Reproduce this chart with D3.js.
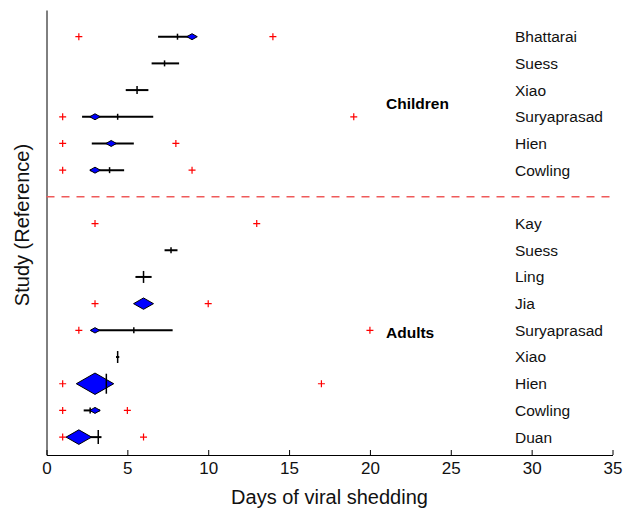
<!DOCTYPE html>
<html>
<head>
<meta charset="utf-8">
<script src="https://cdn.jsdelivr.net/npm/d3@7"></script>
<style>
  body { margin: 0; background: #fff; }
  svg { font-family: "Liberation Sans", Arial, Helvetica, sans-serif; }
</style>
</head>
<body>
<div id="chart"></div>
<script>
// Data
var studies = ["Bhattarai", "Suess", "Xiao", "Suryaprasad", "Hien", "Cowling",
  "Kay", "Suess", "Ling", "Jia", "Suryaprasad", "Xiao", "Hien", "Cowling", "Duan"];
var groups = ["Children", "Children", "Children", "Children", "Children", "Children",
  "Adults", "Adults", "Adults", "Adults", "Adults", "Adults", "Adults", "Adults", "Adults"];
var ciLow = [6.9, 6.5, 4.9, 2.2, 2.8, 2.7, null, 7.3, 5.5, 5.6, 2.75, 4.3, 2.6, 2.3, 1.5];
var ciHigh = [9.2, 8.2, 6.3, 6.6, 5.4, 4.8, null, 8.1, 6.5, 6.4, 7.8, 4.5, 3.7, 3.3, 3.4];
var means = [8.1, 7.3, 5.6, 4.4, null, 3.9, null, 7.7, 6.0, null, 5.4, 4.4, 3.7, 2.7, 3.2];
var meanWeight = [3, 3, 4, 3, 0, 3, 0, 3, 6, 0, 3, 6, 10, 3, 7];
var medians = [9.0, null, null, 3.0, 4.0, 3.0, null, null, null, 6.0, 3.0, null, 3.0, 3.0, 2.0];
var medianWeight = [3, 0, 0, 3, 3, 3, 0, 0, 0, 5.7, 2.7, 0, 10.7, 3, 7.3];
var rangeMin = [2, null, null, 1, 1, 1, 3, null, null, 3, 2, null, 1, 1, 1];
var rangeMax = [14, null, null, 19, 8, 9, 13, null, null, 10, 20, null, 17, 5, 6];
var xTicks = [0, 5, 10, 15, 20, 25, 30, 35];

// slot of each row (one empty slot between the groups)
var rows = studies.map(function(s, i) {
  return {
    study: s,
    group: groups[i],
    slot: groups[i] === "Children" ? i : i + 1,
    lo: ciLow[i], hi: ciHigh[i],
    mean: means[i], mw: meanWeight[i],
    median: medians[i], dw: medianWeight[i],
    min: rangeMin[i], max: rangeMax[i]
  };
});

// Chart set up
var svgWidth = 623;
var svgHeight = 512;

var svg = d3.select("#chart")
  .append("svg")
  .attr("width", svgWidth)
  .attr("height", svgHeight);

var x = d3.scaleLinear()
  .domain([0, 35])
  .range([46.5, 612.5]);

var y = d3.scaleLinear()
  .domain([-1, 15.67])
  .range([10, 455]);

var w = d3.scaleLinear().domain([0, 1]).range([0, 1]);

// Axes
svg.append("g")
  .attr("transform", "translate(0," + y(15.67) + ")")
  .call(d3.axisBottom(x).tickValues(xTicks).tickSizeInner(-5).tickSizeOuter(0).tickPadding(7))
  .call(function(g) {
    g.selectAll("text").attr("font-size", "17px").attr("fill", "#111");
    g.select(".domain").attr("stroke", "#000");
    g.selectAll("line").attr("stroke", "#000");
    g.attr("font-family", null);
  });

svg.append("g")
  .attr("transform", "translate(" + x(0) + ",0)")
  .call(d3.axisLeft(y).tickValues([]).tickSizeOuter(0))
  .call(function(g) { g.select(".domain").attr("stroke", "#000"); });

// Group separator
svg.append("line")
  .attr("x1", x(0))
  .attr("x2", x(35))
  .attr("y1", y(6))
  .attr("y2", y(6))
  .attr("stroke", "#ef5a5a")
  .attr("stroke-width", 1.5)
  .attr("stroke-dasharray", "8,7");

// Range markers (red +)
var rangePts = [];
rows.forEach(function(d) {
  if (d.min !== null) rangePts.push({ v: d.min, slot: d.slot });
  if (d.max !== null) rangePts.push({ v: d.max, slot: d.slot });
});

svg.selectAll(".range")
  .data(rangePts)
  .enter()
  .append("path")
  .attr("class", "range")
  .attr("d", d => "M" + (x(d.v) - 3.5) + "," + y(d.slot) + "h7M" + x(d.v) + "," + (y(d.slot) - 3.5) + "v7")
  .attr("stroke", "red")
  .attr("stroke-width", 1.2)
  .attr("fill", "none");

// CI lines
svg.selectAll(".ci")
  .data(rows.filter(d => d.lo !== null))
  .enter()
  .append("line")
  .attr("class", "ci")
  .attr("x1", d => x(d.lo))
  .attr("x2", d => x(d.hi))
  .attr("y1", d => y(d.slot))
  .attr("y2", d => y(d.slot))
  .attr("stroke", "#000")
  .attr("stroke-width", 2);

// Medians (blue diamonds)
svg.selectAll(".median")
  .data(rows.filter(d => d.median !== null))
  .enter()
  .append("path")
  .attr("class", "median")
  .attr("d", function(d) {
    var cx = x(d.median), cy = y(d.slot), h = w(d.dw), hw = h * 1.75;
    return "M" + (cx - hw) + "," + cy + "L" + cx + "," + (cy - h) + "L" + (cx + hw) + "," + cy + "L" + cx + "," + (cy + h) + "Z";
  })
  .attr("fill", "#0000ff")
  .attr("stroke", "#000")
  .attr("stroke-width", 1);

// Means (vertical ticks)
svg.selectAll(".mean")
  .data(rows.filter(d => d.mean !== null))
  .enter()
  .append("line")
  .attr("class", "mean")
  .attr("x1", d => x(d.mean))
  .attr("x2", d => x(d.mean))
  .attr("y1", d => y(d.slot) - w(d.mw))
  .attr("y2", d => y(d.slot) + w(d.mw))
  .attr("stroke", "#000")
  .attr("stroke-width", 1.5);

// Study names
svg.selectAll(".study")
  .data(rows)
  .enter()
  .append("text")
  .attr("class", "study")
  .attr("x", 515)
  .attr("y", d => y(d.slot))
  .attr("dy", "0.35em")
  .attr("font-size", "15.5px")
  .attr("fill", "#111")
  .text(d => d.study);

// Group labels
svg.append("text")
  .attr("x", 386)
  .attr("y", y(2.5))
  .attr("dy", "0.35em")
  .attr("font-size", "15.5px")
  .attr("font-weight", "bold")
  .text("Children");

svg.append("text")
  .attr("x", 386)
  .attr("y", y(11.07))
  .attr("dy", "0.35em")
  .attr("font-size", "15.5px")
  .attr("font-weight", "bold")
  .text("Adults");

// Axis titles
svg.append("text")
  .attr("x", (x(0) + x(35)) / 2)
  .attr("y", 504)
  .attr("text-anchor", "middle")
  .attr("font-size", "20px")
  .attr("fill", "#111")
  .text("Days of viral shedding");

svg.append("text")
  .attr("transform", "rotate(-90)")
  .attr("x", -225)
  .attr("y", 29)
  .attr("text-anchor", "middle")
  .attr("font-size", "20px")
  .attr("fill", "#111")
  .text("Study (Reference)");
</script>
</body>
</html>
